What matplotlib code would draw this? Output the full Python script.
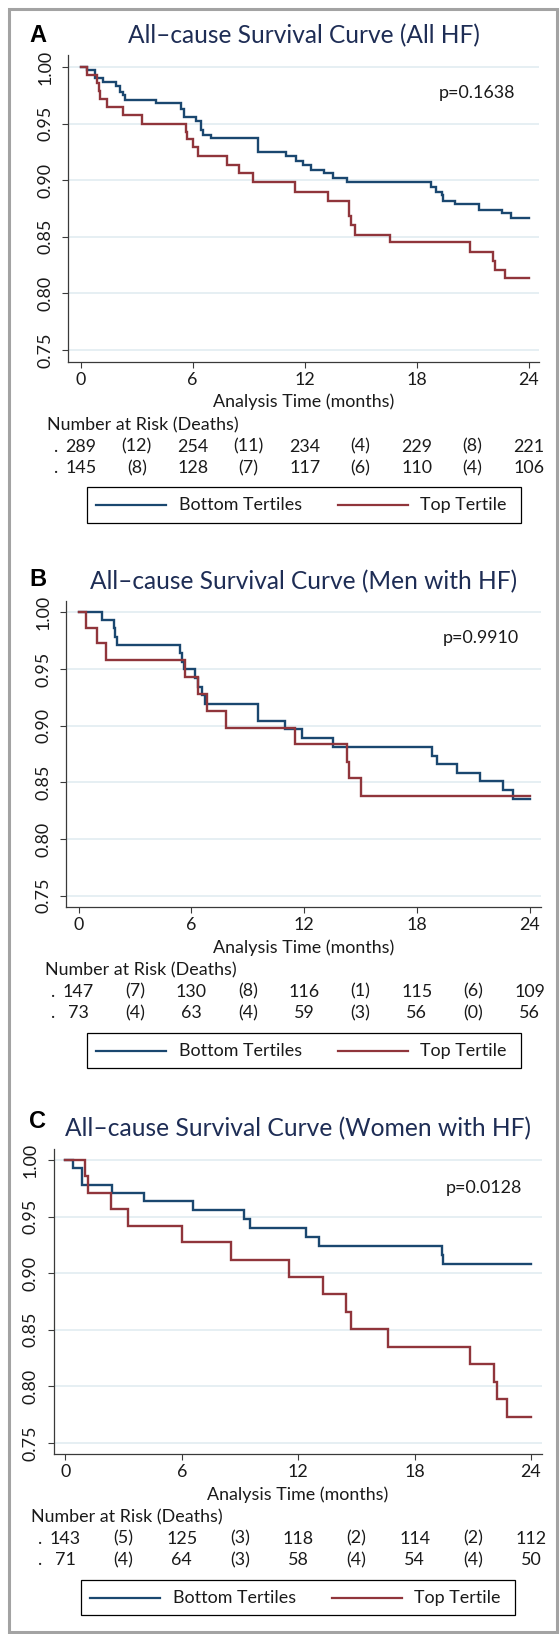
import numpy as np
import matplotlib
matplotlib.use('Agg')
import matplotlib.pyplot as plt
from matplotlib.patches import Rectangle
from matplotlib.lines import Line2D

plt.rcParams['font.family'] = ['Lato', 'DejaVu Sans']

# ---------------- data ----------------
group_labels = ['Bottom Tertiles', 'Top Tertile']
panel_letters = ['A', 'B', 'C']
panel_titles = ['All\u2013cause Survival Curve (All HF)',
                'All\u2013cause Survival Curve (Men with HF)',
                'All\u2013cause Survival Curve (Women with HF)']
p_values = ['p=0.1638', 'p=0.9910', 'p=0.0128']
x_ticks = [0, 6, 12, 18, 24]
y_ticks = [0.75, 0.80, 0.85, 0.90, 0.95, 1.00]
x_label = 'Analysis Time (months)'
risk_header = 'Number at Risk (Deaths)'
risk_times = [0, 3, 6, 9, 12, 15, 18, 21, 24]

# Panel A: all HF
a_bottom_t = [0, 0.36, 0.75, 1.22, 1.89, 2.09, 2.28, 2.37, 4.04, 5.38, 5.53, 6.16, 6.45, 6.53, 6.97,
              9.49, 10.99, 11.52, 11.90, 12.33, 13.05, 13.51, 14.28, 18.79, 19.02, 19.35, 19.41,
              20.04, 21.32, 22.56, 23.08]
a_bottom_s = [1.000, 0.997, 0.990, 0.987, 0.983, 0.978, 0.975, 0.971, 0.968, 0.963, 0.956, 0.952,
              0.944, 0.940, 0.937, 0.925, 0.921, 0.917, 0.913, 0.909, 0.906, 0.902, 0.898, 0.894,
              0.890, 0.887, 0.882, 0.879, 0.874, 0.871, 0.867]
a_top_t = [0, 0.36, 0.88, 0.97, 1.05, 1.42, 2.28, 3.27, 5.63, 5.72, 6.01, 6.30, 7.83, 8.50, 9.21,
           11.46, 13.24, 14.39, 14.49, 14.68, 16.59, 20.84, 22.09, 22.18, 22.72]
a_top_s = [1.000, 0.993, 0.986, 0.979, 0.972, 0.965, 0.958, 0.950, 0.943, 0.936, 0.929, 0.921,
           0.913, 0.906, 0.898, 0.890, 0.882, 0.868, 0.860, 0.852, 0.845, 0.837, 0.829, 0.821, 0.814]
a_bottom_risk = ['289', '(12)', '254', '(11)', '234', '(4)', '229', '(8)', '221']
a_top_risk = ['145', '(8)', '128', '(7)', '117', '(6)', '110', '(4)', '106']

# Panel B: men with HF
b_bottom_t = [0, 1.24, 1.86, 1.94, 2.05, 5.38, 5.48, 5.63, 6.22, 6.33, 6.56, 6.75, 9.54, 10.97,
              11.88, 13.54, 18.82, 19.05, 20.11, 21.35, 22.59, 23.10]
b_bottom_s = [1.000, 0.993, 0.986, 0.978, 0.971, 0.964, 0.956, 0.950, 0.942, 0.934, 0.927, 0.919,
              0.904, 0.897, 0.889, 0.881, 0.873, 0.866, 0.858, 0.851, 0.843, 0.835]
b_top_t = [0, 0.42, 0.99, 1.48, 5.65, 6.33, 6.81, 7.85, 11.50, 14.30, 14.41, 15.02]
b_top_s = [1.000, 0.986, 0.973, 0.958, 0.943, 0.928, 0.913, 0.898, 0.884, 0.868, 0.854, 0.838]
b_bottom_risk = ['147', '(7)', '130', '(8)', '116', '(1)', '115', '(6)', '109']
b_top_risk = ['73', '(4)', '63', '(4)', '59', '(3)', '56', '(0)', '56']

# Panel C: women with HF
c_bottom_t = [0, 0.41, 0.83, 0.87, 2.39, 4.05, 6.57, 9.21, 9.52, 12.38, 13.08, 19.41, 19.47]
c_bottom_s = [1.000, 0.993, 0.986, 0.978, 0.971, 0.964, 0.956, 0.948, 0.940, 0.932, 0.924, 0.916, 0.908]
c_top_t = [0, 0.99, 1.14, 2.34, 3.22, 6.02, 8.56, 11.51, 13.30, 14.46, 14.74, 16.61, 20.87,
           22.10, 22.23, 22.74]
c_top_s = [1.000, 0.986, 0.971, 0.957, 0.942, 0.928, 0.912, 0.897, 0.882, 0.866, 0.851, 0.835,
           0.820, 0.804, 0.789, 0.773]
c_bottom_risk = ['143', '(5)', '125', '(3)', '118', '(2)', '114', '(2)', '112']
c_top_risk = ['71', '(4)', '64', '(3)', '58', '(4)', '54', '(4)', '50']

# ---------------- style / layout (pixels) ----------------
W, H = 560, 1634
colors = ['#1a476f', '#90353b']
title_color = '#1e2d55'
text_color = '#1a1a1a'

layouts = [
    dict(left=68.2, right=539, top=55, bottom=362, x0=80.7, x24=528.6, y1=67, y075=350,
         title_y=36, title_w=353.6, letter_y=35, p_x=439, p_y=92.7),
    dict(left=66.4, right=541, top=601, bottom=907.3, x0=78.6, x24=529.6, y1=612.3, y075=895.7,
         title_y=582, title_w=429.3, letter_y=580, p_x=443, p_y=638.3),
    dict(left=53.6, right=542, top=1149, bottom=1454.3, x0=65.4, x24=531, y1=1160, y075=1443,
         title_y=1129, title_w=467.9, letter_y=1122, p_x=446, p_y=1188.3),
]
curves = [[(a_bottom_t, a_bottom_s), (a_top_t, a_top_s)],
          [(b_bottom_t, b_bottom_s), (b_top_t, b_top_s)],
          [(c_bottom_t, c_bottom_s), (c_top_t, c_top_s)]]
risks = [[a_bottom_risk, a_top_risk], [b_bottom_risk, b_top_risk], [c_bottom_risk, c_top_risk]]

fig = plt.figure(figsize=(W / 100, H / 100), dpi=100)
fig.patch.set_facecolor('white')
renderer = fig.canvas.get_renderer()


def fx(x):
    return x / W


def fy(y):
    return 1 - y / H


def fit_width(t, target):
    bb = t.get_window_extent(renderer)
    t.set_fontsize(t.get_fontsize() * target / bb.width)


# determine small font size from the x-label width
probe = fig.text(0, 0, x_label, fontsize=11)
fit_width(probe, 181)
small_fs = probe.get_fontsize()
probe.remove()

for i, L in enumerate(layouts):
    pxpm = (L['x24'] - L['x0']) / 24.0
    pxpu = (L['y075'] - L['y1']) / 0.25
    xlim = (-(L['x0'] - L['left']) / pxpm, 24 + (L['right'] - L['x24']) / pxpm)
    ylim = (0.75 - (L['bottom'] - L['y075']) / pxpu, 1.0 + (L['y1'] - L['top']) / pxpu)
    ax = fig.add_axes([fx(L['left']), fy(L['bottom']), (L['right'] - L['left']) / W,
                       (L['bottom'] - L['top']) / H])
    ax.set_xlim(*xlim)
    ax.set_ylim(*ylim)
    for s in ['top', 'right']:
        ax.spines[s].set_visible(False)
    for s in ['left', 'bottom']:
        ax.spines[s].set_color('#3a3a3a')
        ax.spines[s].set_linewidth(0.9)
    ax.set_xticks(x_ticks)
    ax.set_xticklabels([str(v) for v in x_ticks])
    ax.set_yticks(y_ticks)
    ax.set_yticklabels(['%.2f' % v for v in y_ticks], rotation=90, va='center')
    ax.tick_params(axis='both', length=4.3, width=0.8, color='#3a3a3a', labelsize=small_fs,
                   labelcolor=text_color)
    ax.tick_params(axis='y', pad=6.5)
    ax.tick_params(axis='x', pad=3.0)
    ax.yaxis.grid(True, color='#e6eff3', linewidth=1.4)
    ax.xaxis.grid(False)
    ax.set_axisbelow(True)

    for (t, s), c in zip(curves[i], colors):
        tt = np.append(np.asarray(t, float), 24.0)
        ss = np.append(np.asarray(s, float), s[-1])
        ax.step(tt, ss, where='post', color=c, linewidth=1.7, solid_joinstyle='miter')

    cx = (L['left'] + L['right']) / 2.0
    # title and panel letter
    tt_ = fig.text(fx(cx), fy(L['title_y']), panel_titles[i], ha='center', va='center',
                   color=title_color, fontsize=16)
    fit_width(tt_, L['title_w'])
    fig.text(fx(37.5), fy(L['letter_y']), panel_letters[i], ha='center', va='center',
             family=['Liberation Sans', 'DejaVu Sans'], weight='bold', fontsize=17, color='black')
    # p-value
    fig.text(fx(L['p_x']), fy(L['p_y']), p_values[i], ha='left', va='center',
             fontsize=small_fs, color=text_color)
    # x label
    b = L['bottom']
    fig.text(fx(cx), fy(b + 40), x_label, ha='center', va='center', fontsize=small_fs,
             color=text_color)
    # number at risk table
    fig.text(fx(L['x0'] - 34), fy(b + 63), risk_header, ha='left', va='center',
             fontsize=small_fs, color=text_color)
    for r, row in enumerate(risks[i]):
        yy = b + 84.5 + r * 21.5
        fig.text(fx(L['x0'] - 25), fy(yy), '.', ha='center', va='center', fontsize=small_fs,
                 color=text_color)
        for m, val in zip(risk_times, row):
            fig.text(fx(L['x0'] + m * pxpm), fy(yy), val, ha='center', va='center',
                     fontsize=small_fs, color=text_color)
    # legend box
    lw_ = 434.0
    lx = cx - lw_ / 2
    ltop, lbot = b + 125.5, b + 161
    fig.add_artist(Rectangle((fx(lx), fy(lbot)), lw_ / W, (lbot - ltop) / H,
                             transform=fig.transFigure, fill=False, edgecolor='black',
                             linewidth=0.9))
    ly = (ltop + lbot) / 2
    for k, (off_line, off_text) in enumerate([(9, 92), (251, 333)]):
        fig.add_artist(Line2D([fx(lx + off_line), fx(lx + off_line + 70)], [fy(ly), fy(ly)],
                              transform=fig.transFigure, color=colors[k], linewidth=1.6))
        fig.text(fx(lx + off_text), fy(ly), group_labels[k], ha='left', va='center',
                 fontsize=small_fs, color=text_color)

# outer frame
fig.add_artist(Rectangle((fx(8.5), fy(1632)), (557 - 8.5) / W, (1632 - 8.5) / H,
                         transform=fig.transFigure, fill=False, edgecolor='#a3a3a3',
                         linewidth=2.2))

fig.savefig('out.png', dpi=100, facecolor='white')
